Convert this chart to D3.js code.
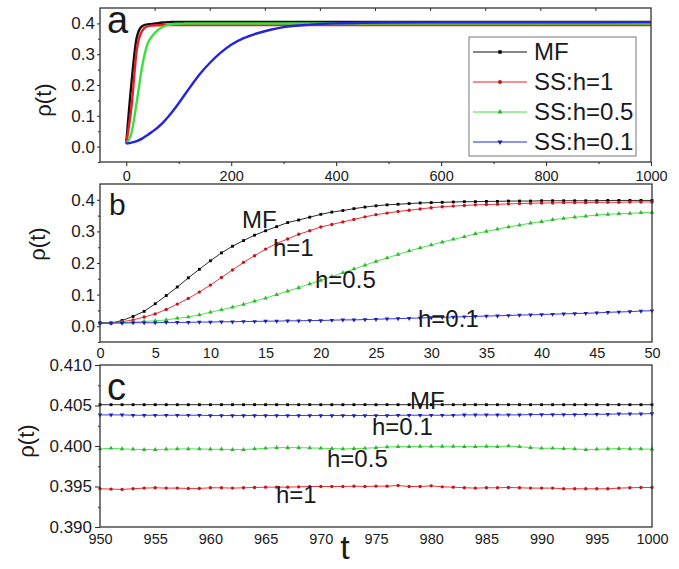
<!DOCTYPE html>
<html>
<head>
<meta charset="utf-8">
<title>rho(t)</title>
<script src="https://d3js.org/d3.v7.min.js"></script>
<style>
  body { margin: 0; background: #fff; }
  text { font-family: Arial, "Liberation Sans", sans-serif; fill: #1a1a1a; }
</style>
</head>
<body>
<script>
var width = 679, height = 569

// ---- data ----
var seriesNames = ["MF", "SS:h=1", "SS:h=0.5", "SS:h=0.1"]
var colors = ["#111111", "#ee1c24", "#3be03b", "#2424e0"]

// panel a: whole run, t = 0..1000
var aTime = [0,10,20,30,40,50,60,70,80,90,100,110,120,140,160,180,200,225,250,275,300,350,400,450,500,600,700,800,900,1000]
var aMF   = [0.010,0.207,0.354,0.391,0.397,0.398,0.401,0.403,0.404,0.4045,0.405,0.405,0.405,0.405,0.405,0.405,0.405,0.405,0.405,0.405,0.405,0.405,0.405,0.405,0.405,0.405,0.405,0.405,0.405,0.405]
var aSS1  = [0.010,0.130,0.314,0.375,0.390,0.393,0.394,0.3945,0.3947,0.3947,0.3948,0.3948,0.3948,0.3948,0.3948,0.3948,0.3948,0.3948,0.3948,0.3948,0.3948,0.3948,0.3948,0.3948,0.3948,0.3948,0.3948,0.3948,0.3948,0.3948]
var aSS05 = [0.010,0.044,0.145,0.257,0.331,0.360,0.378,0.389,0.395,0.398,0.399,0.3994,0.3996,0.3997,0.3997,0.3997,0.3997,0.3997,0.3997,0.3997,0.3997,0.3997,0.3997,0.3997,0.3997,0.3997,0.3997,0.3997,0.3997,0.3997]
var aSS01 = [0.010,0.013,0.018,0.026,0.037,0.049,0.062,0.078,0.097,0.118,0.141,0.165,0.189,0.235,0.273,0.305,0.331,0.353,0.368,0.3795,0.388,0.396,0.400,0.402,0.403,0.4035,0.4037,0.4038,0.4038,0.4040]

// panel b: t = 0..50
var bTime = d3.range(0, 51)
var bMF   = [0.010,0.010,0.018,0.031,0.047,0.071,0.097,0.124,0.153,0.180,0.207,
             0.232,0.253,0.271,0.288,0.302,0.315,0.328,0.336,0.345,0.354,
             0.361,0.366,0.372,0.377,0.381,0.384,0.386,0.388,0.390,0.391,
             0.392,0.393,0.394,0.394,0.395,0.395,0.396,0.396,0.396,0.397,
             0.397,0.397,0.397,0.397,0.397,0.398,0.398,0.398,0.398,0.398]
var bSS1  = [0.010,0.010,0.014,0.020,0.029,0.039,0.053,0.070,0.088,0.108,0.130,
             0.154,0.178,0.202,0.223,0.244,0.262,0.276,0.291,0.302,0.314,
             0.322,0.330,0.338,0.346,0.353,0.358,0.363,0.367,0.371,0.375,
             0.378,0.380,0.382,0.384,0.385,0.386,0.387,0.388,0.389,0.390,
             0.390,0.391,0.391,0.391,0.392,0.392,0.392,0.393,0.393,0.393]
var bSS05 = [0.010,0.010,0.011,0.013,0.015,0.017,0.020,0.025,0.029,0.036,0.044,
             0.052,0.060,0.069,0.079,0.089,0.100,0.111,0.122,0.134,0.145,
             0.157,0.169,0.181,0.193,0.205,0.216,0.227,0.238,0.248,0.257,
             0.266,0.275,0.283,0.293,0.300,0.307,0.314,0.320,0.326,0.331,
             0.337,0.341,0.345,0.348,0.352,0.354,0.356,0.357,0.359,0.360]
var bSS01 = [0.010,0.010,0.010,0.011,0.011,0.011,0.012,0.012,0.012,0.013,0.013,
             0.014,0.014,0.015,0.015,0.016,0.016,0.017,0.017,0.018,0.018,
             0.019,0.020,0.020,0.021,0.022,0.023,0.024,0.025,0.026,0.027,
             0.028,0.029,0.030,0.031,0.032,0.033,0.034,0.035,0.036,0.037,
             0.038,0.039,0.040,0.041,0.042,0.044,0.045,0.046,0.048,0.049]

// panel c: t = 950..1000
var cTime = d3.range(950, 1001)
var cMF   = [0.4051,0.4051,0.4051,0.4051,0.4051,0.4051,0.4051,0.4051,0.4051,0.4051,
             0.4051,0.4051,0.4051,0.4051,0.4051,0.4051,0.4051,0.4051,0.4051,0.4051,
             0.4051,0.4051,0.4051,0.4051,0.4051,
             0.4051,0.4051,0.4051,0.4051,0.4051,0.4051,0.4051,0.4051,0.4051,0.4051,
             0.4051,0.4051,0.4051,0.4051,0.4051,0.4051,0.4051,0.4051,0.4051,0.4051,
             0.4051,0.4051,0.4051,0.4051,0.4051,0.4051]
var cSS1  = [0.39472,0.39468,0.39464,0.39472,0.39480,0.39484,0.39480,0.39480,0.39476,0.39476,
             0.39484,0.39484,0.39480,0.39484,0.39488,0.39492,0.39492,0.39492,0.39496,0.39500,
             0.39500,0.39500,0.39500,0.39504,0.39500,
             0.39504,0.39504,0.39512,0.39500,0.39500,0.39508,0.39496,0.39492,0.39484,0.39480,
             0.39484,0.39484,0.39488,0.39484,0.39480,0.39480,0.39480,0.39472,0.39472,0.39472,
             0.39472,0.39472,0.39480,0.39484,0.39488,0.39488]
var cSS05 = [0.39964,0.39972,0.39964,0.39960,0.39956,0.39956,0.39960,0.39964,0.39964,0.39964,
             0.39960,0.39960,0.39956,0.39956,0.39964,0.39972,0.39980,0.39980,0.39980,0.39976,
             0.39972,0.39968,0.39964,0.39968,0.39972,
             0.39980,0.39988,0.39992,0.39992,0.39996,0.39996,0.39996,0.39996,0.39992,0.39992,
             0.39996,0.39992,0.40000,0.39992,0.39980,0.39972,0.39972,0.39968,0.39964,0.39956,
             0.39960,0.39964,0.39968,0.39964,0.39964,0.39960]
var cSS01 = [0.40384,0.40384,0.40384,0.40380,0.40380,0.40380,0.40380,0.40380,0.40380,0.40380,
             0.40376,0.40376,0.40376,0.40376,0.40376,0.40376,0.40376,0.40376,0.40376,0.40376,
             0.40376,0.40376,0.40376,0.40376,0.40376,
             0.40376,0.40376,0.40380,0.40380,0.40380,0.40380,0.40380,0.40380,0.40384,0.40384,
             0.40384,0.40384,0.40384,0.40384,0.40388,0.40388,0.40388,0.40388,0.40388,0.40392,
             0.40392,0.40392,0.40396,0.40396,0.40396,0.40400]

var aTicksY = [0, 0.1, 0.2, 0.3, 0.4]
var aTicksX = [0, 200, 400, 600, 800, 1000]
var bTicksX = [0, 5, 10, 15, 20, 25, 30, 35, 40, 45, 50]
var cTicksY = [0.390, 0.395, 0.400, 0.405, 0.410]
var cTicksX = [950, 955, 960, 965, 970, 975, 980, 985, 990, 995, 1000]

var symbols = [d3.symbolSquare, d3.symbolCircle, d3.symbolTriangle, d3.symbolTriangle]
var symRot = [0, 0, 0, 180]

var svg = d3.select("body").append("svg")
  .attr("width", width)
  .attr("height", height)

function frame(x0, x1, y0, y1) {
  svg.append("rect")
    .attr("x", x0).attr("y", y0)
    .attr("width", x1 - x0).attr("height", y1 - y0)
    .attr("fill", "none")
    .attr("stroke", "#333")
    .attr("stroke-width", 1.3)
}

function styleAxis(g, fontSize) {
  g.select(".domain").remove()
  g.selectAll("line").attr("stroke", "#333").attr("stroke-width", 1.1)
  g.selectAll("text").style("font-size", fontSize + "px").attr("fill", "#1a1a1a")
    .style("font-family", "Arial, 'Liberation Sans', sans-serif")
}

function drawSeries(x, y, times, lists, withMarkers, lw, curve) {
  lists.forEach(function(vals, i) {
    var pts = times.map(function(t, j) { return [t, vals[j]] })
    svg.append("path")
      .datum(pts)
      .attr("fill", "none")
      .attr("stroke", colors[i])
      .attr("stroke-width", lw)
      .attr("d", d3.line().x(d => x(d[0])).y(d => y(d[1])).curve(curve))
    if (withMarkers) {
      svg.append("g").selectAll("path")
        .data(pts)
        .enter()
        .append("path")
          .attr("d", d3.symbol().type(symbols[i]).size(i == 0 ? 8 : 9))
          .attr("transform", d => "translate(" + x(d[0]) + "," + y(d[1]) + ") rotate(" + symRot[i] + ")")
          .attr("fill", i == 0 ? "#000" : d3.color(colors[i]).darker(0.6))
    }
  })
}

function yLabel(cx, cy) {
  svg.append("text")
    .attr("transform", "translate(" + cx + "," + cy + ") rotate(-90)")
    .attr("text-anchor", "middle")
    .attr("dy", "0.35em")
    .style("font-size", "22px")
    .text("ρ(t)")
}

function note(x, y, txt, size) {
  svg.append("text")
    .attr("x", x).attr("y", y)
    .style("font-size", (size || 24) + "px")
    .text(txt)
}

// ================= panel a =================
var xa = d3.scaleLinear().domain([-50, 1000]).range([100, 651])
var ya = d3.scaleLinear().domain([-0.05, 0.45]).range([162, 8])

drawSeries(xa, ya, aTime, [aMF, aSS1, aSS05, aSS01], false, 2.4, d3.curveMonotoneX)

svg.append("g").attr("transform", "translate(100,0)")
  .call(d3.axisLeft(ya).tickValues(aTicksY).tickFormat(d3.format(".1f")).tickSize(3).tickPadding(2))
  .call(g => styleAxis(g, 17))
svg.append("g").attr("transform", "translate(100,0)")
  .call(d3.axisLeft(ya).tickValues([-0.05, 0.05, 0.15, 0.25, 0.35]).tickFormat("").tickSize(2))
  .call(g => styleAxis(g, 17))
svg.append("g").attr("transform", "translate(0,162)")
  .call(d3.axisBottom(xa).tickValues(aTicksX).tickFormat(d3.format("d")).tickSize(4).tickPadding(5))
  .call(g => styleAxis(g, 14.5))
svg.append("g").attr("transform", "translate(0,162)")
  .call(d3.axisBottom(xa).tickValues([100, 300, 500, 700, 900]).tickFormat("").tickSize(2))
  .call(g => styleAxis(g, 14.5))
// small inward ticks on the top edge
svg.append("g").selectAll("line")
  .data(d3.range(1, 10))
  .enter()
  .append("line")
    .attr("x1", d => 100 + d * 55.1).attr("x2", d => 100 + d * 55.1)
    .attr("y1", 8).attr("y2", 11)
    .attr("stroke", "#333")
frame(100, 651, 8, 162)
yLabel(43, 100)
note(107, 33, "a", 38)

// legend
var leg = svg.append("g")
leg.append("rect")
  .attr("x", 469).attr("y", 37).attr("width", 167).attr("height", 119)
  .attr("fill", "#fff").attr("stroke", "#777").attr("stroke-width", 1)
seriesNames.forEach(function(name, i) {
  var ly = 52 + i * 30
  leg.append("line")
    .attr("x1", 473).attr("x2", 527).attr("y1", ly).attr("y2", ly)
    .attr("stroke", colors[i]).attr("stroke-width", 1)
  leg.append("path")
    .attr("d", d3.symbol().type(symbols[i]).size(12))
    .attr("transform", "translate(500," + ly + ") rotate(" + symRot[i] + ")")
    .attr("fill", i == 0 ? "#000" : d3.color(colors[i]).darker(0.6))
  leg.append("text")
    .attr("x", 534).attr("y", ly).attr("dy", "0.35em")
    .style("font-size", "24px")
    .text(name)
})

// ================= panel b =================
var xb = d3.scaleLinear().domain([0, 50]).range([100, 652])
var yb = d3.scaleLinear().domain([-0.05, 0.45]).range([342, 184])

drawSeries(xb, yb, bTime, [bMF, bSS1, bSS05, bSS01], true, 0.9, d3.curveLinear)

svg.append("g").attr("transform", "translate(100,0)")
  .call(d3.axisLeft(yb).tickValues(aTicksY).tickFormat(d3.format(".1f")).tickSize(3).tickPadding(2))
  .call(g => styleAxis(g, 17))
svg.append("g").attr("transform", "translate(100,0)")
  .call(d3.axisLeft(yb).tickValues([-0.05, 0.05, 0.15, 0.25, 0.35]).tickFormat("").tickSize(2))
  .call(g => styleAxis(g, 17))
svg.append("g").attr("transform", "translate(0,342)")
  .call(d3.axisBottom(xb).tickValues(bTicksX).tickFormat(d3.format("d")).tickSize(0).tickPadding(6))
  .call(g => styleAxis(g, 14.5))
frame(100, 652, 184, 342)
yLabel(37, 244)
note(109, 215, "b", 30)
note(242, 228, "MF")
note(273, 256, "h=1")
note(315, 288, "h=0.5")
note(418, 327, "h=0.1")

// ================= panel c =================
var xc = d3.scaleLinear().domain([950, 1000]).range([100, 652])
var yc = d3.scaleLinear().domain([0.39, 0.41]).range([527, 365])

drawSeries(xc, yc, cTime, [cMF, cSS1, cSS05, cSS01], true, 0.9, d3.curveLinear)

svg.append("g").attr("transform", "translate(100,0)")
  .call(d3.axisLeft(yc).tickValues(cTicksY).tickFormat(d3.format(".3f")).tickSize(5).tickPadding(3))
  .call(g => styleAxis(g, 17))
svg.append("g").attr("transform", "translate(100,0)")
  .call(d3.axisLeft(yc).tickValues([0.3925, 0.3975, 0.4025, 0.4075]).tickFormat("").tickSize(2))
  .call(g => styleAxis(g, 17))
svg.append("g").attr("transform", "translate(0,527)")
  .call(d3.axisBottom(xc).tickValues(cTicksX).tickFormat(d3.format("d")).tickSize(0).tickPadding(7))
  .call(g => styleAxis(g, 14.5))
frame(100, 652, 365, 527)
yLabel(26, 441)
note(107, 400, "c", 38)
note(410, 409, "MF")
note(372, 435, "h=0.1")
note(327, 467, "h=0.5")
note(276, 503, "h=1")

// x axis title
svg.append("text")
  .attr("x", 345).attr("y", 559)
  .attr("text-anchor", "middle")
  .style("font-size", "34px")
  .text("t")
</script>
</body>
</html>
